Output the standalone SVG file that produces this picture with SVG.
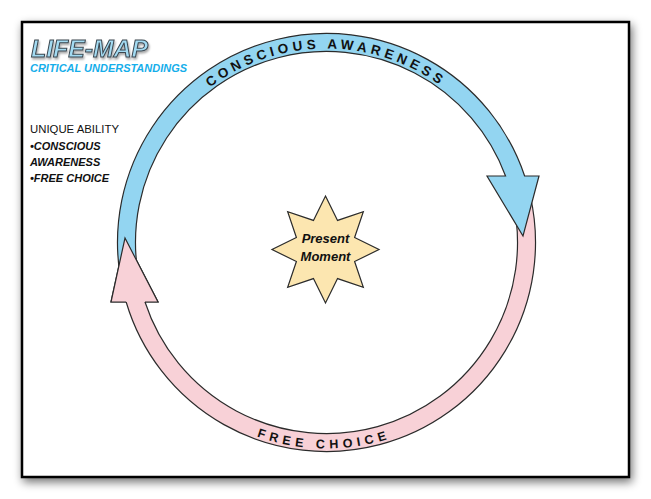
<svg xmlns="http://www.w3.org/2000/svg" width="651" height="499" viewBox="0 0 651 499">
  <defs>
    <filter id="shadow" x="-10%" y="-10%" width="120%" height="120%">
      <feGaussianBlur in="SourceAlpha" stdDeviation="5"/>
      <feOffset dx="2" dy="4" result="b"/>
      <feComponentTransfer><feFuncA type="linear" slope="0.55"/></feComponentTransfer>
      <feMerge><feMergeNode/><feMergeNode in="SourceGraphic"/></feMerge>
    </filter>
    <filter id="tshadow" x="-10%" y="-20%" width="120%" height="140%">
      <feGaussianBlur in="SourceAlpha" stdDeviation="0.8"/>
      <feOffset dx="1" dy="1.5"/>
      <feComponentTransfer><feFuncA type="linear" slope="0.35"/></feComponentTransfer>
      <feMerge><feMergeNode/><feMergeNode in="SourceGraphic"/></feMerge>
    </filter>
    <path id="topArc" d="M 132.5,242.5 A 194 194 0 0 1 520.5,242.5"/>
    <path id="botArc" d="M 120.5,242.5 A 206 206 0 0 0 532.5,242.5"/>
    <style>
      .lbl { font-family: "Liberation Sans", Arial, sans-serif; }
      .edge { stroke: #2b2b2b; stroke-width: 1.2; stroke-linejoin: miter; }
      .blue { fill: #93d5f1; }
      .pink { fill: #f8d1d7; }
      .arc-text { font-family: "Liberation Sans", Arial, sans-serif; font-weight: bold; fill: #111; }
    </style>
  </defs>

  <rect x="0" y="0" width="651" height="499" fill="#ffffff"/>
  <rect x="22" y="22" width="607" height="455" fill="#ffffff" stroke="#000" stroke-width="2.5" filter="url(#shadow)"/>

  <g id="title">
    <text class="lbl" x="31" y="57.3" font-size="24.5" font-weight="bold" font-style="italic" fill="#a3dbf2" stroke="#3b4750" stroke-width="1" textLength="117" lengthAdjust="spacingAndGlyphs" filter="url(#tshadow)">LIFE-MAP</text>
    <text class="lbl" x="30" y="72.3" font-size="11" font-weight="bold" font-style="italic" fill="#15aeea" textLength="157" lengthAdjust="spacingAndGlyphs">CRITICAL UNDERSTANDINGS</text>
  </g>

  <g id="unique-ability" class="lbl" font-size="11" fill="#111">
    <text x="30" y="133.3" textLength="89" lengthAdjust="spacingAndGlyphs">UNIQUE ABILITY</text>
    <text x="30" y="150" font-weight="bold" font-style="italic">•CONSCIOUS</text>
    <text x="30" y="165.7" font-weight="bold" font-style="italic">AWARENESS</text>
    <text x="30" y="181.7" font-weight="bold" font-style="italic">•FREE CHOICE</text>
  </g>

  <g id="connectors">
    <g id="free-choice-arrow">
      <path class="pink edge" d="M 530.26,195.98 A 209 209 0 0 1 126.15,302 L 111,302 L 125,238 L 158,302 L 145,302 A 191 191 0 0 0 512.71,199.99 Z"/>
    </g>
    <g id="conscious-awareness-arrow">
      <path class="blue edge" d="M 120.07,275.19 A 209 209 0 0 1 524.64,176 L 539,176 L 523,236 L 487,176 L 505.55,176 A 191 191 0 0 0 137.85,272.38 Z"/>
    </g>
    <path class="pink edge" d="M 145,302 L 158,302 L 125,238 L 111,302 L 126.15,302"/>
    <text class="arc-text" font-size="13.5" letter-spacing="4.1" text-anchor="middle"><textPath href="#topArc" startOffset="304">CONSCIOUS AWARENESS</textPath></text>
    <text class="arc-text" font-size="12.5" letter-spacing="4.7" text-anchor="middle"><textPath href="#botArc" startOffset="321">FREE CHOICE</textPath></text>
  </g>

  <g id="present-moment">
    <polygon class="edge" fill="#fce6b0" stroke-width="1.5" points="325.5,196 337.55,220.4 363.33,211.67 354.6,237.45 379,249.5 354.6,261.55 363.33,287.33 337.55,278.6 325.5,303 313.45,278.6 287.67,287.33 296.4,261.55 272,249.5 296.4,237.45 287.67,211.67 313.45,220.4"/>
    <text class="lbl" x="325.5" y="243.3" font-size="13" font-weight="bold" font-style="italic" text-anchor="middle" fill="#111">Present</text>
    <text class="lbl" x="325.5" y="261.3" font-size="13" font-weight="bold" font-style="italic" text-anchor="middle" fill="#111">Moment</text>
  </g>
</svg>
